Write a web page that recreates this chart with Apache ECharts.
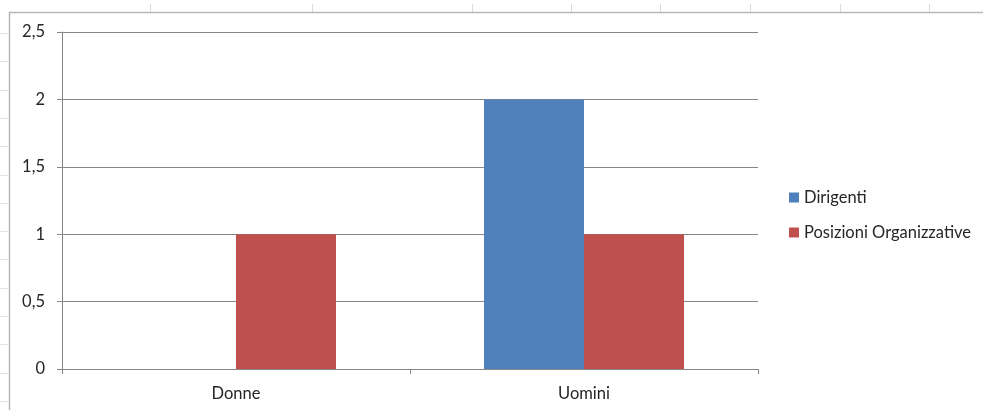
<!DOCTYPE html>
<html>
<head>
<meta charset="utf-8">
<script src="https://cdn.jsdelivr.net/npm/echarts@6/dist/echarts.min.js"></script>
<style>
  html, body { margin: 0; padding: 0; background: #fff; }
  #chart { width: 983px; height: 410px; }
</style>
</head>
<body>
<div id="chart"></div>
<script>
// Personale per genere e ruolo
const categories = ['Donne', 'Uomini'];
const dirigenti = [0, 2];
const posizioniOrganizzative = [1, 1];
const seriesNames = ['Dirigenti', 'Posizioni Organizzative'];
const yTickLabels = ['0', '0,5', '1', '1,5', '2', '2,5'];

const FONT = 'Lato, "Open Sans", sans-serif';
const FS = 16.5;
const TEXT = '#262626';
const AXIS = '#868686';

// Sheet cell lines visible around the chart frame
const sheetCols = [150, 312, 472, 571, 660, 750, 840, 929];
const sheetRows = [];
for (let y = 33; y < 410; y += 28.3) sheetRows.push(Math.round(y));

const graphics = [];
sheetCols.forEach(x => graphics.push({
  type: 'line', silent: true,
  shape: { x1: x + 0.5, y1: 4, x2: x + 0.5, y2: 12 },
  style: { stroke: '#dcdcdc', lineWidth: 1 }
}));
sheetRows.forEach(y => graphics.push({
  type: 'line', silent: true,
  shape: { x1: 0, y1: y + 0.5, x2: 8, y2: y + 0.5 },
  style: { stroke: '#e2e2e2', lineWidth: 1 }
}));
// chart frame
graphics.push({
  type: 'polyline', silent: true,
  shape: { points: [[9.5, 412], [9.5, 12.5], [985, 12.5]] },
  style: { stroke: '#b8b8b8', lineWidth: 1.5, fill: null }
});

const chart = echarts.init(document.getElementById('chart'));
chart.setOption({
  animation: false,
  backgroundColor: '#ffffff',
  textStyle: { fontFamily: FONT, color: TEXT },
  graphic: graphics,
  grid: { left: 62, top: 32, right: 225, bottom: 41, containLabel: false },
  legend: {
    orient: 'vertical',
    left: 784,
    top: 184,
    itemWidth: 10,
    itemHeight: 10,
    itemGap: 18,
    icon: 'rect',
    data: seriesNames,
    textStyle: { fontFamily: FONT, fontSize: FS, color: TEXT, lineHeight: 16 }
  },
  xAxis: {
    type: 'category',
    data: categories,
    axisLine: { lineStyle: { color: AXIS, width: 1 } },
    axisTick: { show: true, length: 5, lineStyle: { color: AXIS } },
    axisLabel: { margin: 16, fontSize: FS, color: TEXT, fontFamily: FONT }
  },
  yAxis: {
    type: 'value',
    min: 0,
    max: 2.5,
    interval: 0.5,
    axisLine: { show: true, lineStyle: { color: AXIS, width: 1 } },
    axisTick: { show: true, length: 5, lineStyle: { color: AXIS } },
    splitLine: { show: true, lineStyle: { color: AXIS, width: 1 } },
    axisLabel: {
      margin: 17, fontSize: FS, color: TEXT, fontFamily: FONT,
      formatter: v => yTickLabels[Math.round(v / 0.5)]
    }
  },
  series: [
    {
      name: seriesNames[0],
      type: 'bar',
      data: dirigenti,
      barWidth: 100,
      barGap: '0%',
      itemStyle: { color: '#4F81BD' }
    },
    {
      name: seriesNames[1],
      type: 'bar',
      data: posizioniOrganizzative,
      barWidth: 100,
      barGap: '0%',
      itemStyle: { color: '#C0504D' }
    }
  ]
});
</script>
</body>
</html>
